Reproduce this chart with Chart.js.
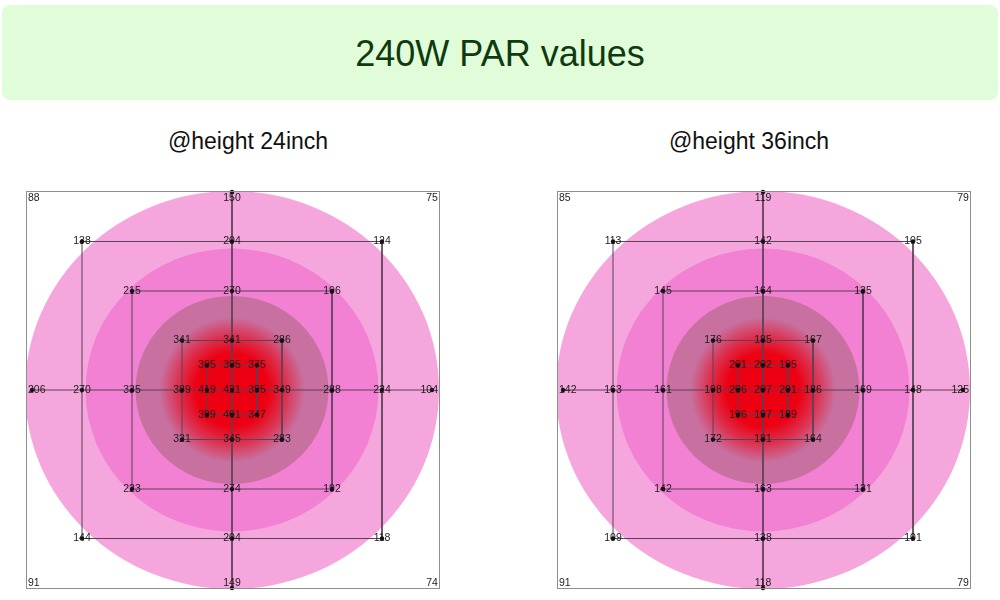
<!DOCTYPE html>
<html>
<head>
<meta charset="utf-8">
<title>240W PAR values</title>
<script src="https://cdn.jsdelivr.net/npm/chart.js@4.4.1/dist/chart.umd.min.js"></script>
<style>
  html, body { margin: 0; padding: 0; background: #fff; }
  body { width: 1000px; height: 600px; position: relative; overflow: hidden;
         font-family: "Liberation Sans", Arial, sans-serif; }
  .banner { position: absolute; left: 2px; top: 5px; width: 996px; height: 95px;
            background: #e0fcd9; border-radius: 8px; display: flex;
            align-items: center; justify-content: center;
            color: #0f3a0f; font-size: 36px; padding-top: 2px; box-sizing: border-box; }
  .sub { position: absolute; top: 128px; width: 300px; text-align: center;
         font-size: 23px; color: #111; }
  canvas { position: absolute; top: 187px; }
</style>
</head>
<body>
<div class="banner">240W PAR values</div>
<div class="sub" style="left:98px">@height 24inch</div>
<div class="sub" style="left:599px">@height 36inch</div>
<canvas id="chart24" width="422" height="406" style="left:22px"></canvas>
<canvas id="chart36" width="422" height="406" style="left:553px"></canvas>

<script>
'use strict';

/* ──────────────────────────────────────────────
   Data
────────────────────────────────────────────── */
// measuring rings, distance from the lamp centre (ft)
const ringSteps = [4, 3, 2, 1, 0.5];
// order of the readings on every ring: TL, T, TR, R, BR, B, BL, L
const ringDirs = [[-1, 1], [0, 1], [1, 1], [1, 0], [1, -1], [0, -1], [-1, -1], [-1, 0]];

// @24 inch
const par24Rings = [
    [88, 150, 75, 104, 74, 149, 91, 206],
    [138, 204, 124, 224, 118, 204, 144, 270],
    [215, 270, 196, 288, 192, 274, 223, 335],
    [341, 341, 286, 349, 283, 345, 321, 389],
    [395, 395, 375, 395, 347, 401, 399, 419]
];
const par24Centre = 421;

// @36 inch
const par36Rings = [
    [85, 119, 79, 125, 79, 118, 91, 142],
    [113, 142, 105, 148, 101, 138, 109, 163],
    [145, 164, 135, 169, 131, 163, 142, 161],
    [176, 185, 167, 186, 164, 181, 172, 198],
    [201, 202, 195, 201, 189, 197, 196, 206]
];
const par36Centre = 207;

// squares joining the readings
const squareSteps = [3, 2, 1, 0.5];

/* ──────────────────────────────────────────────
   Styling
────────────────────────────────────────────── */
const lineColor  = '#5a4157';
const dotColor   = '#111111';
const labelColor = '#1c1c1c';
const boxColor   = '#8e8e8e';

// light zones behind the grid (radii in grid units)
const zones = [
    { rx: 4.14, ry: 4.02, color: '#f5a6dd' },
    { rx: 2.93, ry: 2.86, color: '#f281d3' },
    { rx: 1.93, ry: 1.90, color: '#c8709f' }
];

/* ──────────────────────────────────────────────
   Helpers
────────────────────────────────────────────── */
function readings(rings, centre) {
    const pts = [{ x: 0, y: 0, v: centre, corner: false }];
    rings.forEach(function (row, r) {
        row.forEach(function (v, k) {
            const dx = ringDirs[k][0], dy = ringDirs[k][1];
            pts.push({
                x: dx * ringSteps[r],
                y: dy * ringSteps[r],
                v: v,
                corner: r === 0 && dx !== 0 && dy !== 0
            });
        });
    });
    return pts;
}

function lineSet(points) {
    return {
        type: 'scatter',
        data: points,
        showLine: true,
        borderColor: lineColor,
        borderWidth: 1,
        pointRadius: 0,
        pointHoverRadius: 0,
        clip: false,
        order: 2
    };
}

function gridLines() {
    const out = [];
    squareSteps.forEach(function (s) {
        out.push(lineSet([
            { x: -s, y: s }, { x: s, y: s }, { x: s, y: -s }, { x: -s, y: -s }, { x: -s, y: s }
        ]));
    });
    const e = ringSteps[0];
    out.push(lineSet([{ x: -e, y: 0 }, { x: e, y: 0 }]));
    out.push(lineSet([{ x: 0, y: e }, { x: 0, y: -e }]));
    return out;
}

// zones + hot spot underneath, values + frame on top
const mapPlugin = {
    id: 'parMap',
    beforeDatasetsDraw(chart) {
        const { ctx, chartArea: a, scales: { x, y } } = chart;
        const cx = x.getPixelForValue(0), cy = y.getPixelForValue(0);
        const ux = x.getPixelForValue(1) - cx;
        const uy = cy - y.getPixelForValue(1);
        ctx.save();
        ctx.beginPath();
        ctx.rect(a.left, a.top, a.width, a.height);
        ctx.clip();
        zones.forEach(function (z) {
            ctx.beginPath();
            ctx.ellipse(cx, cy, z.rx * ux, z.ry * uy, 0, 0, Math.PI * 2);
            ctx.fillStyle = z.color;
            ctx.fill();
        });
        const r = 1.45 * ux;
        const g = ctx.createRadialGradient(cx, cy, 0, cx, cy, r);
        g.addColorStop(0, 'rgba(236, 0, 18, 1)');
        g.addColorStop(0.5, 'rgba(236, 0, 18, 1)');
        g.addColorStop(0.75, 'rgba(236, 0, 18, 0.55)');
        g.addColorStop(1, 'rgba(236, 0, 18, 0)');
        ctx.fillStyle = g;
        ctx.fillRect(cx - r, cy - r, 2 * r, 2 * r);
        ctx.restore();
    },
    afterDatasetsDraw(chart) {
        const { ctx, chartArea: a } = chart;
        const meta = chart.getDatasetMeta(0);
        const pts = chart.data.datasets[0].data;
        ctx.save();
        ctx.font = '10.5px "Liberation Sans", Arial, sans-serif';
        ctx.fillStyle = labelColor;
        ctx.textAlign = 'center';
        ctx.textBaseline = 'middle';
        meta.data.forEach(function (el, i) {
            const txt = String(pts[i].v);
            const w = ctx.measureText(txt).width;
            const px = Math.min(Math.max(el.x, a.left + w / 2 + 2), a.right - w / 2 - 2);
            const py = Math.min(Math.max(el.y, a.top + 7), a.bottom - 6);
            ctx.fillText(txt, px, py);
        });
        ctx.strokeStyle = boxColor;
        ctx.lineWidth = 1;
        ctx.strokeRect(a.left + 0.5, a.top + 0.5, a.width - 1, a.height - 1);
        ctx.restore();
    }
};

function drawMap(id, rings, centre) {
    const el = document.getElementById(id);
    if (!el) return;
    new Chart(el, {
        type: 'scatter',
        data: {
            datasets: [{
                label: 'PAR',
                data: readings(rings, centre),
                pointRadius: function (c) { return c.raw && c.raw.corner ? 0 : 2.2; },
                pointBackgroundColor: dotColor,
                pointBorderWidth: 0,
                clip: false,
                order: 1
            }].concat(gridLines())
        },
        options: {
            responsive: false,
            animation: false,
            events: [],
            layout: { padding: 0 },
            scales: {
                x: { type: 'linear', display: false, min: -4.12, max: 4.16 },
                y: { type: 'linear', display: false, min: -4.02, max: 4.02 }
            },
            plugins: { legend: { display: false }, tooltip: { enabled: false } }
        },
        plugins: [mapPlugin]
    });
}

/* ──────────────────────────────────────────────
   Charts
────────────────────────────────────────────── */
drawMap('chart24', par24Rings, par24Centre);
drawMap('chart36', par36Rings, par36Centre);
</script>
</body>
</html>
